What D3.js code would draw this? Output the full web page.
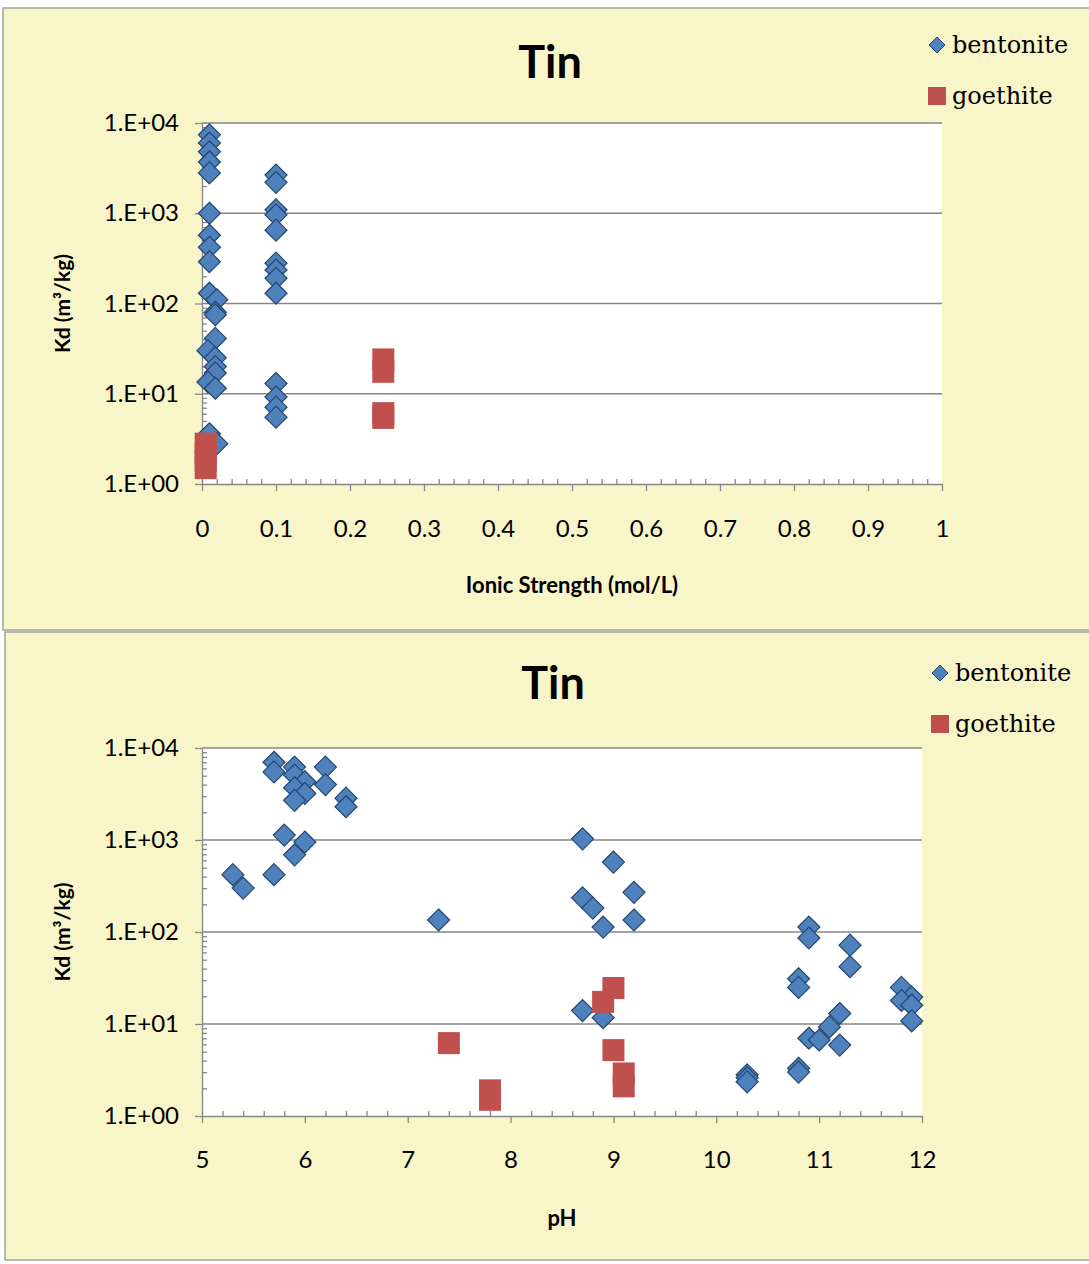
<!DOCTYPE html>
<html>
<head>
  <title>Tin Kd scatter</title>
  <style>
    body { margin: 0; background: #fff; }
    text { font-family: Lato, "Open Sans", sans-serif; fill: #000; }
    .legend text { font-family: "DejaVu Serif", serif; }
  </style>
</head>
<body>
  <svg id="chart"></svg>

  <script src="https://d3js.org/d3.v7.min.js"></script>
  <script>
    // Kd values (m3/kg), as [x, Kd]
    const bentoniteIonic = [
      [0.01, 7400], [0.01, 6000], [0.01, 4800], [0.01, 3700], [0.01, 2800],
      [0.01, 1000], [0.01, 570], [0.01, 420], [0.01, 290],
      [0.01, 130], [0.02, 110], [0.018, 80], [0.018, 75], [0.018, 41],
      [0.008, 30], [0.018, 25], [0.018, 20], [0.018, 17], [0.008, 13.5], [0.018, 11.5],
      [0.01, 3.6], [0.02, 2.8],
      [0.1, 2650], [0.1, 2200], [0.1, 1090], [0.1, 960], [0.1, 650],
      [0.1, 280], [0.1, 235], [0.1, 190], [0.1, 130],
      [0.1, 13], [0.1, 9.2], [0.1, 7.1], [0.1, 5.5]
    ];
    const goethiteIonic = [
      [0.005, 2.8], [0.005, 2.2], [0.005, 1.8], [0.005, 1.5],
      [0.245, 24], [0.245, 17.5], [0.245, 6.1], [0.245, 5.4]
    ];
    const bentonitePH = [
      [5.7, 7000], [5.7, 5500], [5.9, 6200], [6.2, 6200], [5.9, 5100], [6.0, 4300],
      [5.9, 3700], [6.0, 3200], [6.2, 4000], [5.9, 2700], [6.4, 2850], [6.4, 2300],
      [5.8, 1130], [6.0, 950], [5.9, 690], [5.7, 420], [5.3, 420], [5.4, 300],
      [7.3, 135],
      [8.7, 1030], [9.0, 575], [8.7, 235], [8.8, 182], [9.2, 270], [8.9, 113],
      [9.2, 135], [8.7, 14], [8.9, 11.7],
      [10.3, 2.8], [10.3, 2.6], [10.3, 2.35],
      [10.9, 113], [10.9, 86], [11.3, 72], [11.3, 42], [10.8, 31], [10.8, 25],
      [11.8, 25], [11.9, 19.6], [11.8, 18], [11.9, 16], [11.9, 10.8],
      [11.2, 13], [11.1, 9.3], [10.9, 7], [11.0, 6.7], [11.2, 5.9],
      [10.8, 3.3], [10.8, 3.0]
    ];
    const goethitePH = [
      [7.4, 6.2], [7.8, 1.9], [7.8, 1.5], [8.9, 17.4], [9.0, 24.6],
      [9.0, 5.2], [9.1, 2.9], [9.1, 2.1]
    ];
    const kdTicks = [1, 10, 100, 1000, 10000];
    const ionicTicks = [0, 0.1, 0.2, 0.3, 0.4, 0.5, 0.6, 0.7, 0.8, 0.9, 1];
    const phTicks = [5, 6, 7, 8, 9, 10, 11, 12];
    const seriesNames = ['bentonite', 'goethite'];

    const W = 1089, H = 1264;
    const blue = '#4f81bd', blueEdge = '#25466e', red = '#c0504d';
    const grid = '#868686';

    const svg = d3.select('#chart').attr('width', W).attr('height', H);

    const kdMinor = [];
    kdTicks.slice(0, -1).forEach(d => { for (let m = 2; m <= 9; m++) kdMinor.push(d * m); });

    function drawPanel(p) {
      const g = svg.append('g');

      // panel background
      g.append('rect')
        .attr('x', p.box[0]).attr('y', p.box[1])
        .attr('width', p.box[2]).attr('height', p.box[3])
        .attr('fill', '#f8f6c9').attr('stroke', '#a3a39a').attr('stroke-width', 1.5);

      const x = d3.scaleLinear().domain(p.xDomain).range([p.left, p.right]);
      const y = d3.scaleLog().domain([1, 10000]).range([p.bottom, p.top]);

      // plot area
      g.append('rect')
        .attr('x', p.left).attr('y', p.top)
        .attr('width', p.right - p.left).attr('height', p.bottom - p.top)
        .attr('fill', '#fff');

      // horizontal gridlines
      g.selectAll('.grid').data(kdTicks.slice(1)).join('line')
        .attr('x1', p.left).attr('x2', p.right)
        .attr('y1', d => y(d)).attr('y2', d => y(d))
        .attr('stroke', grid).attr('stroke-width', 1.3);

      // y axis: major ticks outside, minor inside
      g.append('g').attr('transform', `translate(${p.left},0)`)
        .call(d3.axisLeft(y).tickValues(kdTicks).tickSizeOuter(0).tickSizeInner(7).tickPadding(16)
          .tickFormat(d => '1.E+' + String(Math.round(Math.log10(d))).padStart(2, '0')));
      g.append('g').attr('transform', `translate(${p.left},0)`)
        .call(d3.axisRight(y).tickValues(kdMinor).tickSize(5).tickFormat(''))
        .select('.domain').remove();

      // x axis: major ticks outside, minor inside
      g.append('g').attr('transform', `translate(0,${p.bottom})`)
        .call(d3.axisBottom(x).tickValues(p.xTicks).tickSizeOuter(0).tickSizeInner(7).tickPadding(p.xPad)
          .tickFormat(d3.format('~g')));
      g.append('g').attr('transform', `translate(0,${p.bottom})`)
        .call(d3.axisTop(x).tickValues(p.xMinor).tickSize(5).tickFormat(''))
        .select('.domain').remove();

      g.selectAll('.domain, .tick line').attr('stroke', grid).attr('stroke-width', 1.3);
      g.selectAll('.tick text').attr('font-size', 24).attr('font-family', 'Lato, sans-serif').attr('fill', '#000');

      // titles
      g.append('text').attr('x', p.titleX).attr('y', p.titleY)
        .attr('text-anchor', 'middle').attr('font-size', 45).attr('font-weight', 'bold')
        .text('Tin');
      g.append('text').attr('x', p.xLabelX).attr('y', p.xLabelY)
        .attr('text-anchor', 'middle').attr('font-size', 22).attr('font-weight', 'bold')
        .text(p.xLabel);
      g.append('text')
        .attr('transform', `translate(70,${(p.top + p.bottom) / 2}) rotate(-90)`)
        .attr('text-anchor', 'middle').attr('font-size', 21).attr('font-weight', 'bold')
        .text('Kd (m³/kg)');

      // points
      const diamond = 'M0,-11L11,0L0,11L-11,0Z';
      g.selectAll('.bent').data(p.bent).join('path')
        .attr('d', diamond)
        .attr('transform', d => `translate(${x(d[0])},${y(d[1])})`)
        .attr('fill', blue).attr('stroke', blueEdge).attr('stroke-width', 1.2);
      g.selectAll('.goe').data(p.goe).join('rect')
        .attr('x', d => x(d[0]) - 11).attr('y', d => y(d[1]) - 11)
        .attr('width', 22).attr('height', 22)
        .attr('fill', red);

      // legend
      const lg = g.append('g').attr('class', 'legend');
      lg.append('path').attr('d', 'M0,-8L8,0L0,8L-8,0Z')
        .attr('transform', `translate(${p.legX},${p.legY})`)
        .attr('fill', blue).attr('stroke', blueEdge);
      lg.append('rect').attr('x', p.legX - 9).attr('y', p.legY + 42)
        .attr('width', 18).attr('height', 18).attr('fill', red);
      lg.selectAll('text').data(seriesNames).join('text')
        .attr('x', p.legX + 15).attr('y', (d, i) => p.legY + 8 + i * 51)
        .attr('font-size', 24)
        .text(d => d);
    }

    drawPanel({
      box: [3, 8, 1100, 622],
      left: 202, right: 942, top: 123, bottom: 484,
      xDomain: [0, 1], xTicks: ionicTicks, xMinor: d3.range(0.02, 1, 0.02).filter((d, i) => (i + 1) % 5 !== 0),
      xPad: 29,
      titleX: 550, titleY: 78,
      xLabel: 'Ionic Strength (mol/L)', xLabelX: 572, xLabelY: 593,
      bent: bentoniteIonic, goe: goethiteIonic,
      legX: 937, legY: 45
    });

    drawPanel({
      box: [5, 632, 1100, 628],
      left: 202, right: 922, top: 748, bottom: 1116,
      xDomain: [5, 12], xTicks: phTicks, xMinor: d3.range(5.2, 12, 0.2).filter((d, i) => (i + 1) % 5 !== 0),
      xPad: 28,
      titleX: 553, titleY: 699,
      xLabel: 'pH', xLabelX: 562, xLabelY: 1226,
      bent: bentonitePH, goe: goethitePH,
      legX: 940, legY: 673
    });
  </script>
</body>
</html>
